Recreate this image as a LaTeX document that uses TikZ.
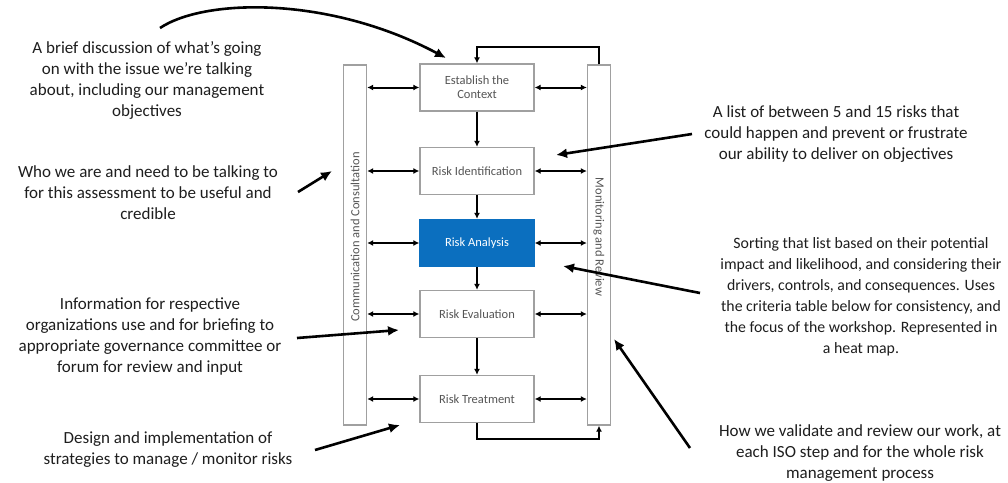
\documentclass[tikz,border=0pt]{standalone}
\usepackage{fontspec}
\setmainfont{Carlito}
\usetikzlibrary{arrows.meta}
\definecolor{riskblue}{HTML}{0B6FBF}
\definecolor{boxgray}{HTML}{A0A0A0}
\definecolor{labelgray}{HTML}{555555}
\definecolor{notegray}{HTML}{1E1E1E}
\begin{document}
\begin{tikzpicture}[x=1pt,y=-1pt,
  stepbox/.style={draw=boxgray,line width=1.3pt,fill=white,minimum width=114pt,minimum height=47pt,
     align=center,font=\fontsize{12.5}{14}\selectfont,text=labelgray,inner sep=1pt},
  sidebar/.style={draw=boxgray,line width=1.3pt,fill=white,minimum width=23pt,minimum height=360pt,inner sep=0pt},
  barlabel/.style={font=\fontsize{12.5}{14}\selectfont,text=labelgray,inner sep=0pt},
  note/.style={align=center,font=\fontsize{17}{21}\selectfont,text=notegray,inner sep=0pt},
  flow/.style={line width=2pt,-{Latex[length=6pt,width=6pt]}},
  both/.style={line width=2pt,{Latex[length=6pt,width=6pt]}-{Latex[length=6pt,width=6pt]}},
  pointer/.style={line width=2.6pt,-{Latex[length=11pt,width=10pt]}}
]
\useasboundingbox[fill=white] (0,0) rectangle (1008,482);

% side bars
\node[sidebar] (cc) at (355,245) {};
\node[barlabel,rotate=90] (cclab) at (355,237) {Communication and Consultation};
\node[sidebar] (mr) at (599,245) {};
\node[barlabel,rotate=-90] (mrlab) at (599,237) {Monitoring and Review};

% process steps
\node[stepbox] (ec) at (477,87.5) {Establish the\\Context};
\node[stepbox] (ri) at (477,171) {Risk Identification};
\node[stepbox,fill=riskblue,draw=riskblue,text=white] (ra) at (477,243) {Risk Analysis};
\node[stepbox] (rev) at (477,314) {Risk Evaluation};
\node[stepbox] (rt) at (477,399) {Risk Treatment};

% vertical flow
\draw[flow] (ec) -- (ri);
\draw[flow] (ri) -- (ra);
\draw[flow] (ra) -- (rev);
\draw[flow] (rev) -- (rt);

% horizontal double arrows
\foreach \n in {ec,ri,ra,rev,rt}{
  \draw[both] (cc.east |- \n.west) -- (\n.west);
  \draw[both] (\n.east) -- (mr.west |- \n.east);
}

% feedback loops
\draw[flow] (mr.north) -- ++(0,-17) -| (ec.north);
\draw[flow] (rt.south) -- ++(0,16) -| (mr.south);

% notes
\node[note] (n1) at (147,80) {A brief discussion of what's going\\on with the issue we're talking\\about, including our management\\objectives};
\node[note] (n2) at (148,193) {Who we are and need to be talking to\\for this assessment to be useful and\\credible};
\node[note] (n3) at (150,336) {Information for respective\\organizations use and for briefing to\\appropriate governance committee or\\forum for review and input};
\node[note] (n4) at (168,450) {Design and implementation of\\strategies to manage / monitor risks};
\node[note] (n5) at (836,134) {A list of between 5 and 15 risks that\\could happen and prevent or frustrate\\our ability to deliver on objectives};
\node[note,font=\fontsize{15.8}{21}\selectfont] (n6) at (861,297) {Sorting that list based on their potential\\impact and likelihood, and considering their\\drivers, controls, and consequences. Uses\\the criteria table below for consistency, and\\the focus of the workshop. Represented in\\a heat map.};
\node[note] (n7) at (860,453) {How we validate and review our work, at\\each ISO step and for the whole risk\\management process};

% pointer ends
\coordinate (p1s) at (160,28);  \coordinate (p1e) at (446,58);
\coordinate (p2s) at (298,192); \coordinate (p2e) at (332,171);
\coordinate (p3s) at (297,338); \coordinate (p3e) at (399,330);
\coordinate (p4s) at (315,450); \coordinate (p4e) at (400,425);
\coordinate (p5s) at (692,134); \coordinate (p5e) at (556,155);
\coordinate (p6s) at (700,293); \coordinate (p6e) at (563,266);
\coordinate (p7s) at (690,448); \coordinate (p7e) at (614,339);

\draw[pointer] (p1s) .. controls (205,-2) and (330,-4) .. (p1e);
\draw[pointer] (p2s) -- (p2e);
\draw[pointer] (p3s) -- (p3e);
\draw[pointer] (p4s) -- (p4e);
\draw[pointer] (p5s) -- (p5e);
\draw[pointer] (p6s) -- (p6e);
\draw[pointer] (p7s) -- (p7e);
\end{tikzpicture}
\end{document}
